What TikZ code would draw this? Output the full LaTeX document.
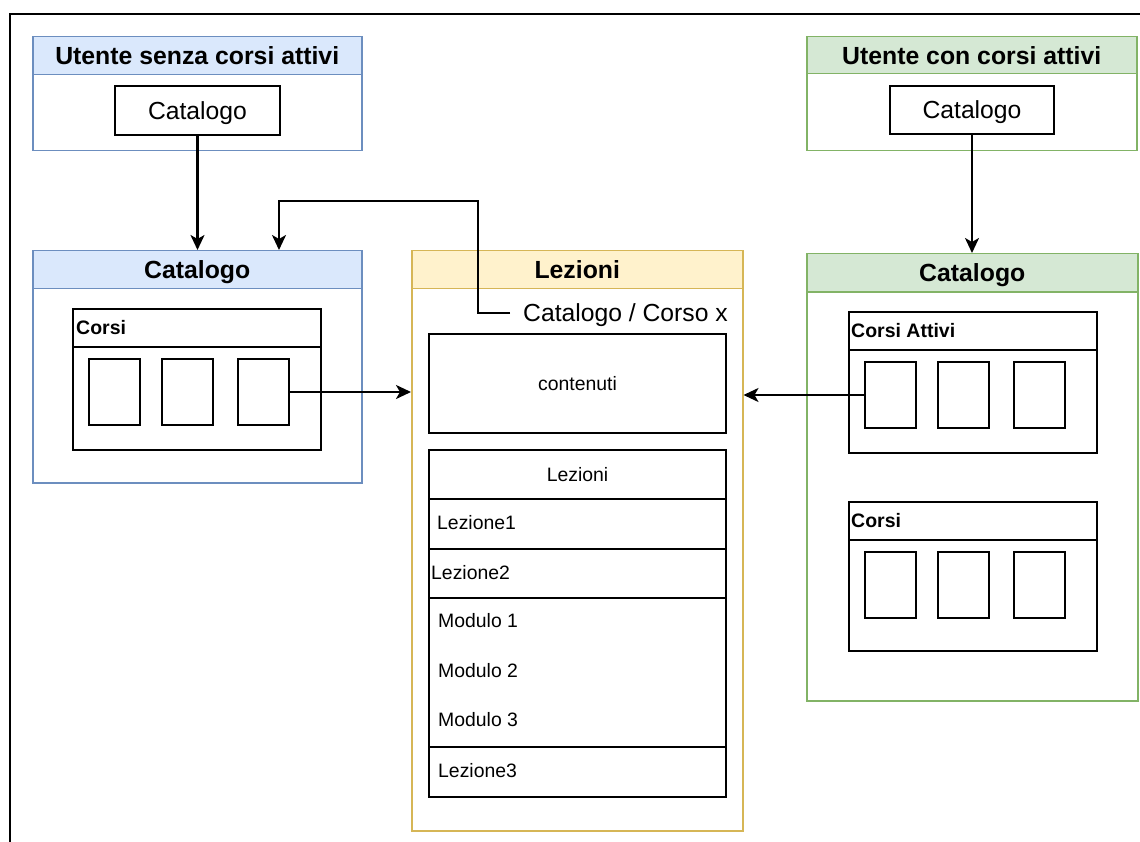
\documentclass[tikz,border=0pt]{standalone}
\usepackage{fontspec}
\setmainfont{Liberation Sans}
\usetikzlibrary{arrows.meta}
\definecolor{bfill}{HTML}{DAE8FC}
\definecolor{bdraw}{HTML}{6C8EBF}
\definecolor{gfill}{HTML}{D5E8D4}
\definecolor{gdraw}{HTML}{82B366}
\definecolor{yfill}{HTML}{FFF2CC}
\definecolor{ydraw}{HTML}{D6B656}
\newcommand\fTitle{\bfseries\fontsize{24.8}{28}\selectfont}
\newcommand\fBig{\fontsize{24.7}{28}\selectfont}
\newcommand\fSub{\bfseries\fontsize{19.5}{23}\selectfont}
\newcommand\fSmall{\fontsize{19.4}{23}\selectfont}
\tikzset{
  cont/.style={draw, line width=1.5pt, inner sep=0pt, anchor=north west},
  hdr/.style={draw, line width=1.5pt, inner sep=0pt, anchor=north west, minimum height=38pt,
    font=\fTitle, text height=17.6pt, text depth=0pt},
  box/.style={draw=black, line width=2pt, inner sep=0pt, anchor=north west},
  card/.style={draw=black, line width=2pt, inner sep=0pt, anchor=north west,
    minimum width=51pt, minimum height=66pt},
  bigtxt/.style={font=\fBig, text height=17.6pt, text depth=0pt},
  smalltxt/.style={font=\fSmall, text height=13.8pt, text depth=0pt, inner sep=0pt},
  subtxt/.style={font=\fSub, text height=14pt, text depth=0pt, inner sep=0pt, anchor=west},
  arr/.style={line width=2.2pt, -{Stealth[length=15pt,width=14pt,inset=4pt]}},
}
\begin{document}
\begin{tikzpicture}[x=1pt,y=-1pt]
\useasboundingbox (0,0) rectangle (1140,842);
% outer frame
\draw[line width=2.2pt] (10,846) -- (10,14) -- (1146,14);

% ---- top left: Utente senza corsi attivi
\node[cont, draw=bdraw, minimum width=329pt, minimum height=114pt] (u1) at (32,36) {};
\node[hdr, draw=bdraw, fill=bfill, minimum width=329pt] (u1h) at (32,36) {Utente senza corsi attivi};
\node[box, bigtxt, minimum width=165pt, minimum height=49pt] (u1cat) at (114,85) {Catalogo};

% ---- top right: Utente con corsi attivi
\node[cont, draw=gdraw, minimum width=330pt, minimum height=114pt] (u2) at (806,36) {};
\node[hdr, draw=gdraw, fill=gfill, minimum width=330pt, minimum height=37pt] (u2h) at (806,36) {Utente con corsi attivi};
\node[box, bigtxt, minimum width=164pt, minimum height=48pt] (u2cat) at (889,85) {Catalogo};

% ---- left Catalogo
\node[cont, draw=bdraw, minimum width=329pt, minimum height=232pt] (c1) at (32,250) {};
\node[hdr, draw=bdraw, fill=bfill, minimum width=329pt] (c1h) at (32,250) {Catalogo};
\node[box, minimum width=248pt, minimum height=141pt] (c1corsi) at (72,308) {};
\node[box, minimum width=248pt, minimum height=38pt] (c1corsih) at (72,308) {};
\node[subtxt] (c1corsit) at (76,327) {Corsi};
\node[card] (c1a) at (88,358) {};
\node[card] (c1b) at (161,358) {};
\node[card] (c1c) at (237,358) {};

% ---- Lezioni (center)
\node[cont, draw=ydraw, minimum width=331pt, minimum height=580pt] (lez) at (411,250) {};
\node[hdr, draw=ydraw, fill=yfill, minimum width=331pt] (lezh) at (411,250) {Lezioni};
\node[bigtxt, inner ysep=0pt, inner xsep=13pt, anchor=west] (path) at (510,313) {Catalogo / Corso x};
\node[box, minimum width=297pt, minimum height=99pt, font=\fSmall, text height=13.8pt, text depth=0pt] (cont) at (428,333) {contenuti};

\node[box, minimum width=297pt, minimum height=49pt, font=\fSmall, text height=13.8pt, text depth=0pt] (lh) at (428,449) {Lezioni};
\node[box, minimum width=297pt, minimum height=50pt] (r1) at (428,498) {};
\node[smalltxt, anchor=west] (t1) at (437,523) {Lezione1};
\node[box, minimum width=297pt, minimum height=49pt] (r2) at (428,548) {};
\node[smalltxt, anchor=west] (t2) at (431,572.5) {Lezione2};
\node[box, minimum width=297pt, minimum height=149pt] (rm) at (428,597) {};
\node[smalltxt, anchor=west] (m1) at (438,621) {Modulo 1};
\node[smalltxt, anchor=west] (m2) at (438,671) {Modulo 2};
\node[smalltxt, anchor=west] (m3) at (438,720) {Modulo 3};
\node[box, minimum width=297pt, minimum height=50pt] (r3) at (428,746) {};
\node[smalltxt, anchor=west] (t3) at (438,771) {Lezione3};

% ---- right Catalogo
\node[cont, draw=gdraw, minimum width=331pt, minimum height=447pt] (c2) at (806,253) {};
\node[hdr, draw=gdraw, fill=gfill, minimum width=331pt] (c2h) at (806,253) {Catalogo};
\node[box, minimum width=248pt, minimum height=141pt] (att) at (848,311) {};
\node[box, minimum width=248pt, minimum height=38pt] (atth) at (848,311) {};
\node[subtxt] (attt) at (851,330) {Corsi Attivi};
\node[card] (a1) at (864,361) {};
\node[card] (a2) at (937,361) {};
\node[card] (a3) at (1013,361) {};
\node[box, minimum width=248pt, minimum height=149pt] (c2corsi) at (848,501) {};
\node[box, minimum width=248pt, minimum height=38pt] (c2corsih) at (848,501) {};
\node[subtxt] (c2corsit) at (851,520) {Corsi};
\node[card] (b1) at (864,551) {};
\node[card] (b2) at (937,551) {};
\node[card] (b3) at (1013,551) {};

% ---- connectors
\draw[arr] (u1cat.south) -- (u1cat.south |- c1.north);
\draw[arr] (u2cat.south) -- (u2cat.south |- c2.north);
\draw[arr] (c1c.east) -- (c1c.east -| lez.west);
\draw[arr] (a1.west) -- (a1.west -| lez.east);
\coordinate (k1) at (478,201);
\coordinate (k2) at (279,201);
\draw[arr] (path.west) -| (k1) -- (k2) -- (k2 |- c1.north);
\end{tikzpicture}
\end{document}
